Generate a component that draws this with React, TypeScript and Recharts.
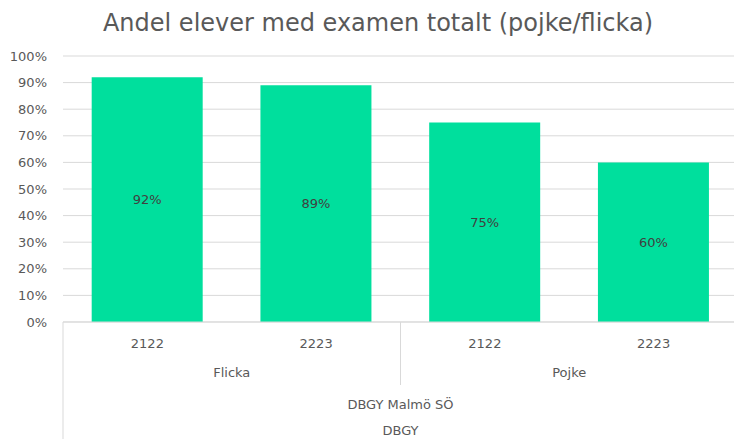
import { BarChart, Bar, XAxis, YAxis, CartesianGrid, LabelList } from 'recharts'

const years = ['2122', '2223', '2122', '2223']
const genders = ['Flicka', 'Flicka', 'Pojke', 'Pojke']
const values = [92, 89, 75, 60]
const yTicks = [0, 10, 20, 30, 40, 50, 60, 70, 80, 90, 100]
const unitLabel = 'DBGY Malmö SÖ'
const orgLabel = 'DBGY'
const title = 'Andel elever med examen totalt (pojke/flicka)'

const data = years.map((year, i) => ({ key: `${genders[i]}-${year}`, year, gender: genders[i], value: values[i] }))

const W = 734
const H = 439
const LEFT = 63
const RIGHT = -4
const TOP = 56
const BOTTOM = 117
const FONT = '"DejaVu Sans", sans-serif'
const TEXT = '#595959'
const LINE = '#d9d9d9'

const plotW = W - LEFT - RIGHT
const cat = plotW / data.length

function MultiTick(props: any) {
  const { x, y, payload } = props
  const i = payload.index
  const d = data[i]
  const top = y - 8
  const out: any[] = [
    <text key="y" x={x} y={top + 26} textAnchor="middle" fontSize={13} fill={TEXT} fontFamily={FONT}>
      {d.year}
    </text>,
  ]
  if (i % 2 === 0) {
    out.push(
      <text key="g" x={x + cat / 2} y={top + 55} textAnchor="middle" fontSize={13} fill={TEXT} fontFamily={FONT}>
        {d.gender}
      </text>
    )
  }
  if (i === 2) {
    out.push(<line key="sep" x1={x - cat / 2} x2={x - cat / 2} y1={top} y2={top + 63} stroke={LINE} />)
  }
  if (i === 0) {
    const mid = LEFT + plotW / 2
    out.push(
      <line key="l" x1={LEFT} x2={LEFT} y1={top} y2={H} stroke={LINE} />,
      <text key="u" x={mid} y={top + 87} textAnchor="middle" fontSize={13} fill={TEXT} fontFamily={FONT}>
        {unitLabel}
      </text>,
      <text key="o" x={mid} y={top + 113} textAnchor="middle" fontSize={13} fill={TEXT} fontFamily={FONT}>
        {orgLabel}
      </text>
    )
  }
  return <g>{out}</g>
}

export default function App() {
  return (
    <div style={{ position: 'absolute', left: 0, top: 0, width: W, height: H, background: '#fff' }}>
      <div
        style={{
          position: 'absolute',
          top: 9,
          left: 0,
          width: 756,
          textAlign: 'center',
          fontFamily: FONT,
          fontSize: 24,
          color: TEXT,
          whiteSpace: 'nowrap',
        }}
      >
        {title}
      </div>
      <BarChart
        width={W}
        height={H}
        data={data}
        margin={{ top: TOP, right: RIGHT, bottom: 0, left: 0 }}
        barCategoryGap="17%"
      >
        <CartesianGrid vertical={false} stroke={LINE} />
        <XAxis
          dataKey="key"
          height={BOTTOM}
          axisLine={{ stroke: LINE }}
          tickLine={false}
          interval={0}
          tick={<MultiTick />}
        />
        <YAxis
          width={LEFT}
          domain={[0, 100]}
          ticks={yTicks}
          tickFormatter={(v) => `${v}%`}
          axisLine={false}
          tickLine={false}
          tickMargin={10}
          tick={{ fontSize: 13, fill: TEXT, fontFamily: FONT }}
        />
        <Bar dataKey="value" fill="#00df9d" isAnimationActive={false}>
          <LabelList
            dataKey="value"
            position="center"
            formatter={(v: any) => `${v}%`}
            style={{ fontSize: 13, fill: '#404040', fontFamily: FONT }}
          />
        </Bar>
      </BarChart>
    </div>
  )
}
